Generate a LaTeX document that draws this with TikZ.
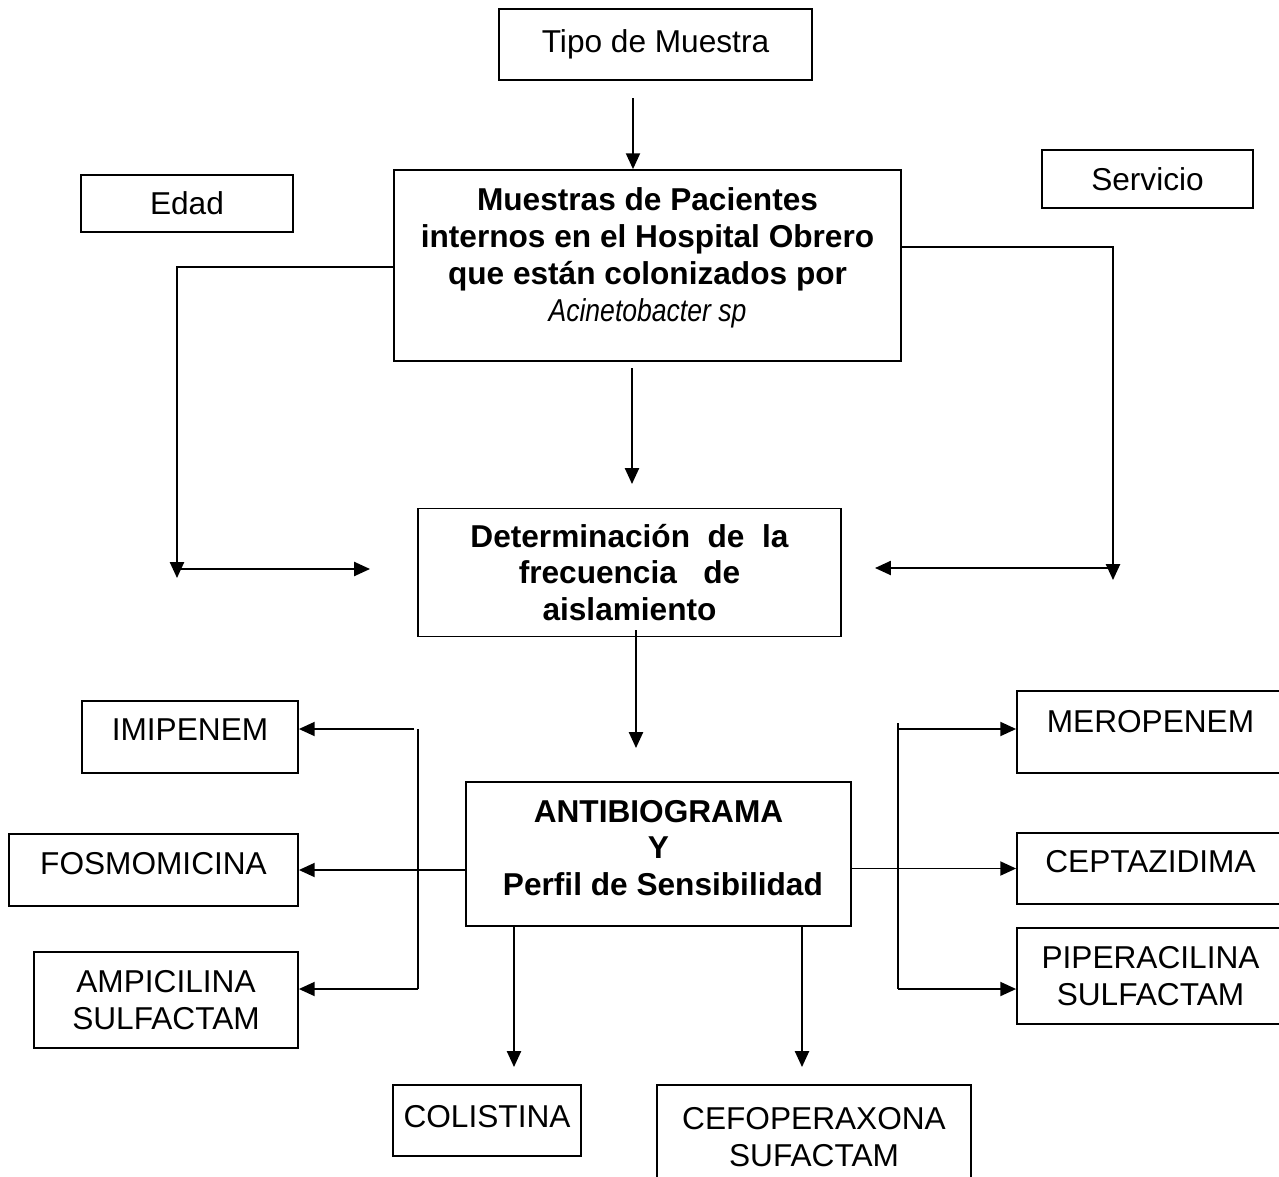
\documentclass[tikz,border=0pt]{standalone}
\usepackage{fontspec}
\setmainfont{Liberation Sans}
\usepackage{graphicx}
\usetikzlibrary{arrows.meta,positioning,calc}
\newcommand{\px}[1]{#1*0.02cm}

\begin{document}
\begin{tikzpicture}[x=0.02cm,y=-0.02cm,line width=1pt,
                    >={Triangle[length=9pt,width=8pt]},
                    box/.style={draw,line width=1pt,align=center,inner sep=2pt,
                                font=\fontsize{18}{21}\selectfont},
                    bold box/.style={box,font=\fontsize{18}{21}\selectfont\bfseries}]
\useasboundingbox (0,0) rectangle (1279,1177);

% top row
\node[box,minimum width=\px{313},minimum height=\px{71}] (tipo) at (655.5,44.5) {Tipo de Muestra};
\node[box,minimum width=\px{212},minimum height=\px{57}] (edad) at (187,203.5) {Edad};
\node[box,minimum width=\px{211},minimum height=\px{58}] (serv) at (1147.5,179) {Servicio};

\node[bold box,minimum width=\px{507},minimum height=\px{191},text depth=12.8pt] (main) at (647.5,265.5)
  {Muestras de Pacientes\\ internos en el Hospital Obrero\\ que están colonizados por\\
   \mdseries\scalebox{0.84}[1]{\itshape Acinetobacter sp}};

\node[bold box,minimum width=\px{423},minimum height=\px{128}] (det) at (629.5,572.5)
  {Determinación~ de~ la\\ frecuencia~~ de\\ aislamiento};

\node[bold box,minimum width=\px{385},minimum height=\px{144},text depth=7pt] (anti) at (658.5,854)
  {ANTIBIOGRAMA\\ Y\\ ~Perfil de Sensibilidad};

% left column
\node[box,minimum width=\px{216},minimum height=\px{72},text depth=8pt] (imi) at (190,737) {IMIPENEM};
\node[box,minimum width=\px{289},minimum height=\px{72},text depth=7.4pt] (fos) at (153.5,870) {FOSMOMICINA};
\node[box,minimum width=\px{264},minimum height=\px{96}] (ampi) at (166,1000) {AMPICILINA\\ SULFACTAM};

% right column
\node[box,minimum width=\px{267},minimum height=\px{82},text depth=12.4pt] (mero) at (1150.5,732) {MEROPENEM};
\node[box,minimum width=\px{267},minimum height=\px{71},text depth=8pt] (cept) at (1150.5,868.5) {CEPTAZIDIMA};
\node[box,minimum width=\px{267},minimum height=\px{96}] (pipe) at (1150.5,976) {PIPERACILINA\\ SULFACTAM};

% bottom row
\node[box,minimum width=\px{188},minimum height=\px{71},text depth=5pt] (coli) at (487,1120.5) {COLISTINA};
\node[box,minimum width=\px{314},minimum height=\px{105}] (cefo) at (814,1137.5) {CEFOPERAXONA\\ SUFACTAM};

% free ends
\coordinate (tipo out) at (633,98);
\coordinate (edad turn) at (177,267);
\coordinate (edad end) at (177,578);
\coordinate (edad from) at (177,569);
\coordinate (edad to) at (370,569);
\coordinate (serv turn) at (1113,247);
\coordinate (serv end) at (1113,580);
\coordinate (serv from) at (1113,568);
\coordinate (serv to) at (875,568);
\coordinate (main out) at (632,368);
\coordinate (det in) at (632,484);
\coordinate (det out) at (636,630);
\coordinate (anti in) at (636,748);
\coordinate (l arm) at (414,729);
\coordinate (l top) at (418,729);
\coordinate (l bot) at (418,989);
\coordinate (r top) at (898,723);
\coordinate (r arm) at (898,729);
\coordinate (r bot) at (898,989);
\coordinate (coli arm) at (514,1067);
\coordinate (cefo arm) at (802,1067);

\draw[->] (tipo out) -- (tipo out |- main.north);
\draw[->] (main.west |- edad turn) -- (edad turn) -- (edad end);
\draw[->] (edad from) -- (edad to);
\draw[->] (main.east |- serv turn) -- (serv turn) -- (serv end);
\draw[->] (serv from) -- (serv to);
\draw[->] (main out) -- (det in);
\draw[->] (det out) -- (anti in);

\draw (l top) -- (l bot);
\draw[->] (l arm) -- (l arm -| imi.east);
\draw[->] (anti.west |- fos.east) -- (fos.east);
\draw[->] (l bot) -- (l bot -| ampi.east);

\draw (r top) -- (r bot);
\draw[->] (r arm) -- (r arm -| mero.west);
\draw[->] (anti.east |- cept.west) -- (cept.west);
\draw[->] (r bot) -- (r bot -| pipe.west);

\draw[->] (coli arm |- anti.south) -- (coli arm);
\draw[->] (cefo arm |- anti.south) -- (cefo arm);

\end{tikzpicture}
\end{document}
